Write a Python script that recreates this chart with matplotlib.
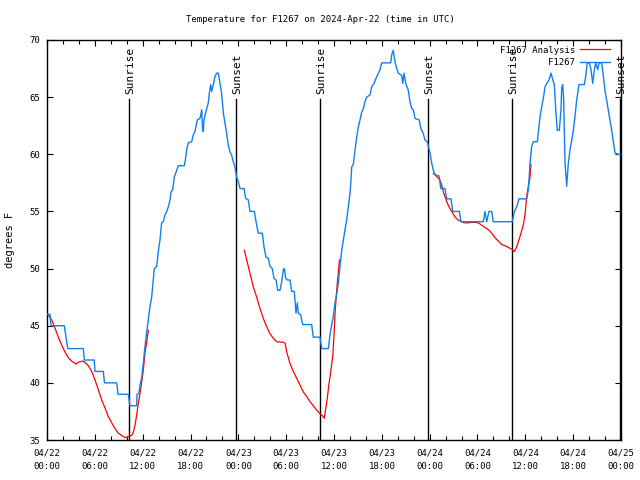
import numpy as np
import matplotlib.pyplot as plt
from matplotlib.ticker import MultipleLocator

# hours since 2024-04-22 00:00 UTC
obs_hours = [0.06, 0.38, 0.50, 2.17, 2.60, 4.55, 4.68, 5.93, 6.02, 7.06, 7.21, 8.74, 8.91,
             10.20, 10.41, 11.25, 11.29, 11.54, 11.67, 11.88, 12.08, 12.29, 12.51, 12.71,
             12.92, 13.13, 13.33, 13.46, 13.76, 13.96, 14.17, 14.30, 14.38, 14.59, 14.80,
             15.02, 15.22, 15.43, 15.55, 15.77, 15.97, 16.27, 16.47, 17.22, 17.35, 17.52,
             17.72, 18.15, 18.35, 18.56, 18.85, 19.19, 19.41, 19.51, 19.61, 19.69, 20.03,
             20.23, 20.36, 20.53, 20.66, 20.86, 21.07, 21.29, 21.49, 21.70, 21.91, 22.12,
             22.33, 22.54, 22.74, 22.96, 23.17, 23.37, 23.58, 23.79, 23.99, 24.21, 24.71,
             24.92, 25.25, 25.46, 26.01, 26.22, 26.50, 27.01, 27.22, 27.47, 27.76, 27.97,
             28.26, 28.47, 28.73, 28.94, 29.23, 29.44, 29.64, 29.77, 29.94, 30.14, 30.48,
             30.70, 31.02, 31.23, 31.40, 31.52, 31.82, 32.07, 33.20, 33.40, 34.24, 34.46,
             35.29, 35.50, 35.71, 35.91, 36.13, 36.34, 36.54, 36.75, 36.97, 37.17, 37.38,
             37.59, 37.79, 38.01, 38.13, 38.22, 38.42, 38.64, 38.85, 39.05, 39.26, 39.48,
             39.68, 39.89, 40.10, 40.52, 40.73, 41.02, 41.36, 41.56, 41.77, 41.98, 43.11,
             43.24, 43.44, 43.57, 43.78, 44.07, 44.49, 44.62, 44.78, 45.00, 45.32, 45.53,
             45.75, 45.95, 46.16, 46.70, 46.88, 47.00, 47.20, 47.42, 47.70, 47.84, 48.05,
             48.26, 48.46, 48.68, 49.18, 49.39, 49.92, 50.14, 50.68, 50.89, 51.72, 51.93,
             54.73, 54.94, 55.16, 55.44, 55.78, 55.98, 58.37, 58.62, 58.92, 59.21, 60.17,
             60.38, 60.59, 60.80, 61.00, 61.51, 61.64, 61.85, 62.06, 62.26, 62.47, 62.68,
             62.97, 63.22, 63.39, 63.64, 63.81, 64.01, 64.26, 64.47, 64.56, 64.69, 64.81,
             64.98, 65.19, 65.39, 65.60, 65.82, 66.02, 66.23, 66.44, 66.73, 67.40, 67.57,
             67.77, 68.02, 68.24, 68.45, 68.66, 68.83, 69.08, 69.24, 69.58, 69.78, 69.99,
             70.40, 70.83, 71.25, 71.65, 71.99]
obs_temp = [46.0, 46.0, 45.0, 45.0, 43.0, 43.0, 42.0, 42.0, 41.0, 41.0, 40.0, 40.0, 39.0,
            39.0, 38.0, 38.0, 39.0, 39.1, 39.8, 40.5, 41.7, 43.2, 44.5, 45.5,
            46.7, 47.5, 49.0, 50.0, 50.2, 51.5, 52.5, 53.4, 54.0, 54.1, 54.7,
            55.0, 55.4, 56.0, 56.7, 56.9, 58.0, 58.6, 59.0, 59.0, 59.5, 60.4,
            61.0, 61.1, 61.7, 62.0, 63.0, 63.15, 63.9, 62.2, 62.0, 63.0, 64.0,
            64.5, 65.3, 66.1, 65.5, 66.1, 66.8, 67.1, 67.1, 66.2, 65.3, 63.6,
            62.7, 61.8, 60.8, 60.2, 59.9, 59.35, 58.9, 58.0, 57.6, 57.0, 57.0,
            56.15, 56.0, 55.0, 55.0, 54.1, 53.1, 53.1, 51.9, 51.0, 50.9, 50.2,
            50.0, 49.15, 49.0, 48.1, 48.1, 48.85, 49.9, 50.0, 49.15, 49.0, 49.0,
            48.0, 48.0, 46.1, 47.0, 46.1, 45.95, 45.1, 45.1, 44.0, 44.0, 43.0,
            43.0, 44.2, 45.1, 45.8, 47.0, 47.8, 48.7, 50.2, 51.6, 52.5, 53.4,
            54.25, 55.4, 56.6, 57.75, 58.9, 59.1, 60.4, 61.5, 62.4, 63.0, 63.7,
            64.0, 64.6, 65.0, 65.2, 65.9, 66.2, 66.8, 67.1, 67.4, 68.0, 68.0,
            68.7, 69.1, 68.4, 67.7, 67.1, 66.9, 66.2, 67.1, 66.2, 65.6, 64.6,
            64.0, 63.9, 63.15, 63.0, 62.3, 62.1, 61.8, 61.25, 61.1, 60.7, 60.1,
            59.2, 58.6, 58.2, 58.1, 57.0, 57.0, 56.1, 56.1, 55.0, 55.0, 54.1,
            54.1, 55.0, 54.1, 55.0, 55.0, 54.1, 54.1, 55.0, 55.4, 56.1, 56.1,
            56.9, 59.2, 60.7, 61.1, 61.1, 62.0, 63.3, 64.2, 64.9, 65.9, 66.2,
            66.5, 67.1, 66.65, 66.1, 63.9, 62.1, 62.1, 63.9, 65.8, 66.1, 64.75,
            59.2, 57.2, 59.2, 60.4, 61.25, 62.1, 63.3, 64.75, 66.1, 66.1, 66.8,
            68.0, 68.0, 67.4, 66.2, 67.4, 68.0, 67.4, 68.0, 68.0, 66.9, 65.6,
            63.9, 62.1, 60.1, 60.0, 60.0]

# analysis series, NaN marks the gaps between runs
ana_hours = [0.19, 0.59, 1.00, 1.42, 1.84, 2.26, 2.67, 3.10, 3.64, 3.93, 4.43, 4.68, 5.18,
             5.61, 6.02, 6.44, 6.86, 7.28, 7.69, 8.12, 8.53, 8.94, 9.37, 9.78, 10.20,
             10.62, 10.83, 11.04, 11.25, 11.45, 11.67, 11.88, 12.08, 12.29, 12.51, 12.71,
             18.0,
             24.75, 25.05, 25.46, 25.88, 26.30, 26.72, 27.13, 27.56, 27.97, 28.39, 28.81,
             29.64, 29.85, 30.07, 30.48, 30.90, 31.32, 31.74, 32.15, 32.58, 32.99, 33.40,
             33.83, 34.24, 34.58, 34.78, 35.00, 35.16, 35.37, 35.50, 35.84, 36.00, 36.13,
             36.25, 36.41, 36.54, 36.68,
             42.0,
             48.46, 48.68, 49.29, 49.51, 49.71, 49.92, 50.14, 50.43, 50.76, 51.18, 51.59,
             52.02, 52.43, 52.85, 53.27, 53.69, 54.10, 54.53, 54.94, 55.36, 55.78, 56.20,
             56.61, 57.04, 57.45, 57.87, 58.29, 58.62, 58.92, 59.33, 59.75, 59.96, 60.17,
             60.38, 60.59, 60.71]
ana_temp = [45.9, 45.5, 44.8, 44.0, 43.3, 42.7, 42.2, 41.9, 41.65, 41.8, 41.9, 41.85, 41.5,
            41.0, 40.25, 39.4, 38.5, 37.8, 37.05, 36.5, 36.0, 35.6, 35.4, 35.2, 35.3,
            35.4, 35.7, 36.3, 37.2, 38.2, 39.1, 40.1, 41.1, 42.6, 43.6, 44.6,
            np.nan,
            51.6, 50.75, 49.6, 48.4, 47.5, 46.5, 45.65, 44.9, 44.3, 43.9, 43.6,
            43.55, 43.5, 42.7, 41.7, 41.0, 40.4, 39.8, 39.2, 38.8, 38.35, 38.0,
            37.6, 37.3, 37.1, 36.9, 37.9, 38.65, 39.95, 40.5, 42.3, 44.2, 46.1,
            47.25, 48.7, 49.6, 50.75,
            np.nan,
            58.3, 58.2, 57.75, 57.3, 56.7, 56.3, 55.85, 55.4, 55.0, 54.5, 54.25,
            54.1, 54.0, 54.0, 54.05, 54.05, 54.0, 53.8, 53.6, 53.4, 53.1, 52.7,
            52.4, 52.1, 52.0, 51.85, 51.7, 51.5, 51.9, 52.8, 53.8, 54.7, 56.3,
            57.2, 58.0, 59.1]

sun_hours = [10.32, 23.71, 34.26, 47.82, 58.36, 71.9]
sun_labels = ['Sunrise', 'Sunset', 'Sunrise', 'Sunset', 'Sunrise', 'Sunset']

tick_hours = list(range(0, 73, 6))
tick_labels = ['04/22\n00:00', '04/22\n06:00', '04/22\n12:00', '04/22\n18:00',
               '04/23\n00:00', '04/23\n06:00', '04/23\n12:00', '04/23\n18:00',
               '04/24\n00:00', '04/24\n06:00', '04/24\n12:00', '04/24\n18:00',
               '04/25\n00:00']

plt.rcParams['font.family'] = 'DejaVu Sans Mono'
plt.rcParams['font.size'] = 6.5

fig = plt.figure(figsize=(6.4, 4.8), dpi=100)
ax = fig.add_axes([47 / 640, 40 / 480, 574 / 640, 400 / 480])

ax.plot(ana_hours, ana_temp, color='#ff0000', lw=0.9, label='F1267 Analysis', zorder=3)
ax.plot(obs_hours, obs_temp, color='#1080f0', lw=1.0, label='F1267', zorder=4)

# sunrise / sunset markers
for h, lab in zip(sun_hours, sun_labels):
    ax.plot([h, h], [35, 64.8], color='black', lw=1.0, zorder=2)
    ax.text(h + 0.15, 65.3, lab, rotation=90, ha='center', va='bottom',
            fontsize=8, clip_on=False)

ax.set_xlim(0, 72)
ax.set_ylim(35, 70)
ax.set_xticks(tick_hours)
ax.set_xticklabels(tick_labels, linespacing=1.7)
ax.xaxis.set_minor_locator(MultipleLocator(2))
ax.yaxis.set_major_locator(MultipleLocator(5))
ax.tick_params(which='both', direction='in', top=True, right=True)
ax.tick_params(which='major', length=4.5, width=0.8)
ax.tick_params(which='minor', length=3, width=0.8)
ax.tick_params(axis='x', pad=6)
ax.tick_params(axis='y', pad=5)
for sp in ax.spines.values():
    sp.set_linewidth(1.0)

ax.legend(loc='upper right', bbox_to_anchor=(0.981, 0.986), frameon=False,
          markerfirst=False, handlelength=3.3, handletextpad=0.6,
          labelspacing=0.42, borderpad=0, borderaxespad=0)

fig.text(0.5, 1 - 20 / 480, 'Temperature for F1267 on 2024-Apr-22 (time in UTC)',
         ha='center', va='center')
fig.text(10 / 640, 0.5, 'degrees F', rotation=90, ha='center', va='center', fontsize=7.5)

plt.savefig('out.png', dpi=100)
